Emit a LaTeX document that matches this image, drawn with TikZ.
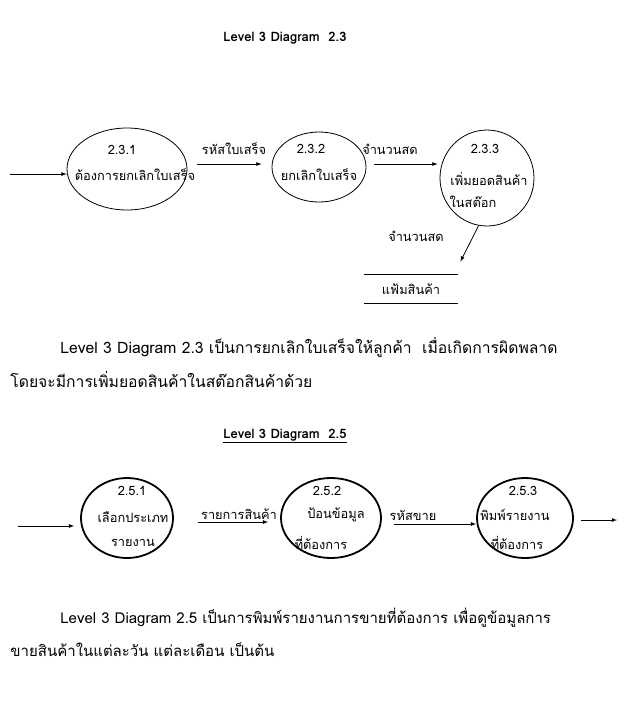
\documentclass[tikz,border=0pt]{standalone}
\usepackage{fontspec}
\setmainfont{Loma}[Script=Thai]
\usetikzlibrary{shapes.geometric,calc}

\begin{document}
\begin{tikzpicture}[> = latex, x = 1pt, y = -1pt, line width = 0.8pt,
	bubble/.style = {draw, ellipse, inner sep = 0pt},
	boldbubble/.style = {bubble, line width = 1.8pt},
	lbl/.style = {font = \fontsize{12.8}{15}\selectfont, inner sep = 0pt},
	para/.style = {font = \fontsize{15.7}{19}\selectfont, inner sep = 0pt, anchor = west},
	heading/.style = {font = \fontsize{13}{15}\selectfont\bfseries, inner sep = 0pt}]

	% Definitions
	
	\def\gap{\ \ }		% Double space as in the text
	
	\useasboundingbox (0, 0) rectangle (626, 702);
	
	% Level 3 Diagram 2.3
	
	\node [heading] (title1) at (285, 38) {Level 3 Diagram\gap 2.3};
	
	% Processes
	
	\node [bubble, minimum width = 120, minimum height = 82] (p1) at (127, 169) {};
	\node [bubble, minimum width = 94, minimum height = 70] (p2) at (319, 167) {};
	\node [bubble, minimum width = 94, minimum height = 96] (p3) at (487, 178) {};
	
	\node [lbl] (p1num) at (122, 150) {2.3.1};
	\node [lbl] (p1txt) at (135, 175) {ต้องการยกเลิกใบเสร็จ};
	\node [lbl] (p2num) at (311, 149) {2.3.2};
	\node [lbl] (p2txt) at (319, 175) {ยกเลิกใบเสร็จ};
	\node [lbl] (p3num) at (485, 149) {2.3.3};
	\node [lbl] (p3txt) at (489, 179) {เพิ่มยอดสินค้า};
	\node [lbl] (p3txtb) at (473, 202) {ในสต๊อก};
	
	% Data store
	
	\node [lbl, minimum width = 94, minimum height = 28] (store) at (411, 289) {แฟ้มสินค้า};
	\draw [line width = 1.5pt] (store.north west) -- (store.north east);
	\draw [line width = 1.5pt] (store.south west) -- (store.south east);
	
	% Data flows
	
	\coordinate (in1) at (10, 174);
	\draw [->] (in1) -- (in1 -| p1.west);
	\draw [->] ($(p1.east) + (10, -5)$) -- ($(p2.west) + (-10, -3)$);
	\draw [->] ($(p2.east) + (8, -3)$) -- ($(p3.west) + (-2, -14)$);
	\draw [->] (p3.260) -- ($(store.north east) + (2, -13)$);
	
	\node [lbl] (f1) at (234, 149) {รหัสใบเสร็จ};
	\node [lbl] (f2) at (390, 149) {จำนวนสด};
	\node [lbl] (f3) at (416, 236) {จำนวนสด};
	
	% Description 2.3
	
	\node [para] (desc1a) at (60, 347) {Level 3 Diagram 2.3 เป็นการยกเลิกใบเสร็จให้ลูกค้า\gap เมื่อเกิดการผิดพลาด};
	\node [para] (desc1b) at (10, 379) {โดยจะมีการเพิ่มยอดสินค้าในสต๊อกสินค้าด้วย};
	
	% Level 3 Diagram 2.5
	
	\node [heading] (title2) at (285, 436) {\underline{Level 3 Diagram\gap 2.5}};
	
	% Processes
	
	\node [boldbubble, minimum width = 92, minimum height = 80] (q1) at (127, 518) {};
	\node [boldbubble, minimum width = 100, minimum height = 80] (q2) at (331, 518) {};
	\node [boldbubble, minimum width = 96, minimum height = 80] (q3) at (525, 518) {};
	
	\node [lbl] (q1num) at (132, 491) {2.5.1};
	\node [lbl] (q1txt) at (133, 517) {เลือกประเภท};
	\node [lbl] (q1txtb) at (133, 543) {รายงาน};
	\node [lbl] (q2num) at (327, 491) {2.5.2};
	\node [lbl] (q2txt) at (336, 515) {ป้อนข้อมูล};
	\node [lbl] (q2txtb) at (321, 543) {ที่ต้องการ};
	\node [lbl] (q3num) at (523, 491) {2.5.3};
	\node [lbl] (q3txt) at (515, 515) {พิมพ์รายงาน};
	\node [lbl] (q3txtb) at (517, 543) {ที่ต้องการ};
	
	% Data flows
	
	\coordinate (in2) at (18, 526);
	\coordinate (out2) at (617, 520);
	\draw [->] (in2) -- ([xshift = -6pt] in2 -| q1.west);
	\draw [->] ($(q1.east) + (24, 4)$) -- ($(q2.west) + (-12, 4)$);
	\draw [->] ($(q2.east) + (12, 6)$) -- ($(q3.west) + (0, 6)$);
	\draw [->] ($(q3.east) + (7, 2)$) -- (out2);
	
	\node [lbl] (g1) at (239, 514) {รายการสินค้า};
	\node [lbl] (g2) at (413, 515) {รหัสขาย};
	
	% Description 2.5
	
	\node [para, font = \fontsize{15}{18}\selectfont] (desc2a) at (60, 618) {Level 3 Diagram 2.5 เป็นการพิมพ์รายงานการขายที่ต้องการ เพื่อดูข้อมูลการ};
	\node [para, font = \fontsize{15}{18}\selectfont] (desc2b) at (10, 650) {ขายสินค้าในแต่ละวัน แต่ละเดือน เป็นต้น};

\end{tikzpicture}
\end{document}
